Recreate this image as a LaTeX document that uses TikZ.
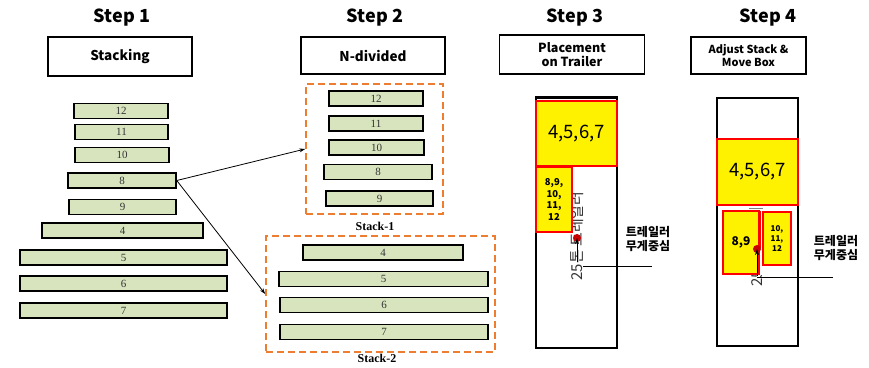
\documentclass[tikz,border=0pt]{standalone}
\usepackage{fontspec}
\setmainfont{Noto Sans CJK KR}
\newfontfamily\serifnum{Liberation Serif}
\usetikzlibrary{arrows.meta}
\definecolor{bargreen}{RGB}{216,228,190}
\definecolor{dashorange}{RGB}{237,125,49}
\definecolor{dotred}{RGB}{200,0,0}
\tikzset{
  bar/.style={draw=black, line width=1.5pt, fill=bargreen, minimum height=15pt, inner sep=0pt, font=\serifnum\fontsize{11}{11}\selectfont, text=black!80},
  stepttl/.style={font=\bfseries\fontsize{18}{20}\selectfont},
  hdrbox/.style={draw=black, line width=1.3pt, fill=white, inner sep=0pt, align=center, font=\bfseries\fontsize{11}{13}\selectfont},
  dashbox/.style={draw=dashorange, line width=1.6pt, dash pattern=on 7pt off 4pt, inner sep=0pt},
  stacklbl/.style={font=\serifnum\bfseries\fontsize{12}{12}\selectfont},
  trailer/.style={draw=black, line width=1.3pt, inner sep=0pt},
  ybox/.style={draw=red, line width=1.3pt, fill=yellow, inner sep=0pt, align=center},
  kor/.style={font=\bfseries\fontsize{12}{14.5}\selectfont, align=center},
  con/.style={-{Stealth[length=6pt,width=4pt]}, line width=0.8pt},
}
\begin{document}
\begin{tikzpicture}[x=1pt,y=-1pt]
\useasboundingbox (0,0) rectangle (869,367);
% ---------- Step 1
\node[stepttl] (t1) at (122,18) {Step 1};
\node[hdrbox, minimum width=144pt, minimum height=39pt, font=\bfseries\fontsize{13.5}{15}\selectfont] (h1) at (120,56.5) {Stacking};
\node[bar, minimum width=94pt] (a12) at (121,111) {12};
\node[bar, minimum width=93pt] (a11) at (121.5,132) {11};
\node[bar, minimum width=94pt] (a10) at (122,155) {10};
\node[bar, minimum width=108pt] (a8) at (122,180.5) {8};
\node[bar, minimum width=107pt] (a9) at (122.5,207) {9};
\node[bar, minimum width=161pt] (a4) at (122.5,230.5) {4};
\node[bar, minimum width=207pt] (a5) at (123.5,257.5) {5};
\node[bar, minimum width=207pt] (a6) at (123.5,283.5) {6};
\node[bar, minimum width=207pt] (a7) at (123.5,310.5) {7};
% ---------- Step 2
\node[stepttl] (t2) at (375,18) {Step 2};
\node[hdrbox, minimum width=144pt, minimum height=37pt, font=\bfseries\fontsize{13.5}{15}\selectfont] (h2) at (373,55.5) {N-divided};
\node[dashbox, minimum width=137pt, minimum height=130pt] (st1) at (374.5,149) {};
\node[dashbox, minimum width=229pt, minimum height=116pt] (st2) at (380.5,294) {};
\node[bar, minimum width=94pt] (b12) at (376,98.5) {12};
\node[bar, minimum width=94pt] (b11) at (376,123.5) {11};
\node[bar, minimum width=95pt] (b10) at (376.5,147.5) {10};
\node[bar, minimum width=108pt] (b8) at (378,172) {8};
\node[bar, minimum width=107pt] (b9) at (379.5,198.5) {9};
\node[bar, minimum width=160pt] (b4) at (383,252.5) {4};
\node[bar, minimum width=209pt] (b5) at (383.5,279) {5};
\node[bar, minimum width=208pt] (b6) at (384,305) {6};
\node[bar, minimum width=208pt] (b7) at (384,332) {7};
\node[stacklbl] (l1) at (375,226.5) {Stack-1};
\node[stacklbl] (l2) at (377,358.5) {Stack-2};
\draw[con] (a8.east) -- (st1.west);
\draw[con] (a8.east) -- (st2.west);
% ---------- Step 3
\node[stepttl] (t3) at (575,18) {Step 3};
\node[hdrbox, minimum width=145pt, minimum height=39pt, font=\bfseries\fontsize{12.5}{14}\selectfont] (h3) at (572,54.5) {Placement\\on Trailer};
\node[trailer, minimum width=81pt, minimum height=250pt] (tr3) at (576.5,223) {};
\draw[line width=2.2pt] (tr3.north west) -- (tr3.north east);
\node[rotate=90, font=\fontsize{15}{15}\selectfont, text=black!80, anchor=west] (v3) at (577,284) {25톤 트레일러};
\node[ybox, minimum width=81pt, minimum height=65pt, font=\fontsize{18.5}{18.5}\selectfont] (y3a) at (576.5,133.5) {4,5,6,7};
\node[ybox, minimum width=36pt, minimum height=65pt, font=\bfseries\fontsize{9.5}{11.5}\selectfont] (y3b) at (554,199.5) {8,9,\\10,\\11,\\12};
\fill[dotred] (577,238) circle (4pt) coordinate (d3);
\coordinate (p3) at (577,262);
\draw[con] (p3) -- (d3);
\coordinate (q3a) at (583,266);
\coordinate (q3b) at (652,266);
\draw[line width=0.9pt] (q3a) -- (q3b);
\node[kor] (k3) at (648,239) {트레일러\\무게중심};
% ---------- Step 4
\node[stepttl] (t4) at (768,18) {Step 4};
\node[hdrbox, minimum width=115pt, minimum height=37pt, font=\bfseries\fontsize{11}{13}\selectfont] (h4) at (748.5,55.5) {Adjust Stack \&\\Move Box};
\node[trailer, minimum width=81pt, minimum height=248pt] (tr4) at (757.5,222) {};
\begin{scope}
\clip (740,275) rectangle (775,292);
\node[rotate=90, font=\fontsize{15}{15}\selectfont, text=black!80, anchor=west] (v4) at (757,290) {25톤 트레일러};
\end{scope}
\draw[gray, line width=1pt] (749,208) -- (763,208);
\node[ybox, minimum width=36pt, minimum height=63pt, font=\bfseries\fontsize{12}{14}\selectfont] (y4b) at (741,242.5) {8,9};
\node[ybox, minimum width=28pt, minimum height=53pt, font=\bfseries\fontsize{8}{10}\selectfont] (y4c) at (777,238.5) {10,\\11,\\12};
\node[ybox, minimum width=81pt, minimum height=66pt, font=\fontsize{18.5}{18.5}\selectfont] (y4a) at (757.5,172) {4,5,6,7};
\draw[red, line width=0.6pt] (760.5,211) -- (760.5,248);
\fill[dotred] (757,249) circle (4pt) coordinate (d4);
\coordinate (p4) at (757,276);
\draw[con] (p4) -- (d4);
\coordinate (q4b) at (833,277);
\draw[line width=0.9pt] (p4) ++(0,1) -- (q4b);
\node[kor] (k4) at (836,248) {트레일러\\무게중심};
\end{tikzpicture}
\end{document}
